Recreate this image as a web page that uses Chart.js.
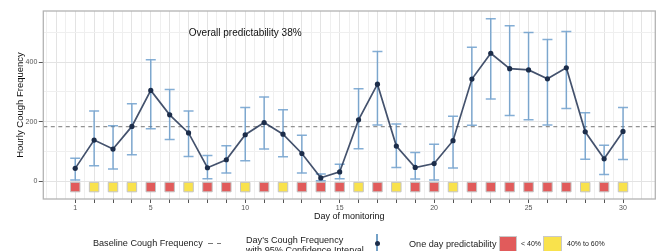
<!DOCTYPE html>
<html>
<head>
<meta charset="utf-8">
<script src="https://cdn.jsdelivr.net/npm/chart.js@4"></script>
<style>
  html, body { margin: 0; padding: 0; background: #fff; overflow: hidden; }
  #wrap { position: relative; width: 663px; height: 251px; overflow: hidden; font-family: "Liberation Sans", Arial, sans-serif; }
  #chart { position: absolute; left: 0; top: 0; }
  .lg { position: absolute; white-space: nowrap; color: #222; font-size: 9.1px; line-height: 10px; }
  .sm { font-size: 7px; }
</style>
</head>
<body>
<div id="wrap">
  <canvas id="chart" width="663" height="251"></canvas>
  <div class="lg" style="left:93px; top:238px;">Baseline Cough Frequency</div>
  <div style="position:absolute; left:208px; top:243px; width:14px; height:1px; background:repeating-linear-gradient(to right, #777 0 4.5px, transparent 4.5px 8.5px);"></div>
  <div class="lg" style="left:246px; top:235px;">Day's Cough Frequency</div>
  <div class="lg" style="left:246px; top:244.5px;">with 95% Confidence Interval</div>
  <div style="position:absolute; left:376.3px; top:234px; width:1.4px; height:18px; background:rgba(70,130,180,0.75);"></div>
  <div style="position:absolute; left:374.5px; top:241px; width:5px; height:5px; border-radius:50%; background:#1c2d4a;"></div>
  <div class="lg" style="left:409px; top:239px;">One day predictability</div>
  <div style="position:absolute; left:499px; top:236px; width:16px; height:16px; background:#e15b5b; border:1px solid #c9c9c9;"></div>
  <div class="lg sm" style="left:521px; top:239px;">&lt; 40%</div>
  <div style="position:absolute; left:543px; top:236px; width:17px; height:16px; background:#f9e24c; border:1px solid #c9c9c9;"></div>
  <div class="lg sm" style="left:567px; top:239px;">40% to 60%</div>
</div>
<script>
  // values
  const days = [1, 2, 3, 4, 5, 6, 7, 8, 9, 10, 11, 12, 13, 14, 15, 16, 17, 18, 19, 20, 21, 22, 23, 24, 25, 26, 27, 28, 29, 30];
  const coughMean = [43, 138, 108, 184, 305, 223, 162, 45, 72, 156, 197, 158, 93, 11, 31, 206, 326, 118, 46, 59, 136, 343, 430, 378, 374, 344, 381, 166, 75, 167];
  const ciLower = [4, 52, 41, 89, 176, 140, 83, 8, 27, 69, 108, 82, 27, 1, 8, 109, 189, 46, 7, 4, 44, 188, 276, 221, 206, 189, 244, 74, 22, 73];
  const ciUpper = [77, 236, 186, 260, 408, 308, 236, 86, 119, 248, 283, 240, 154, 24, 57, 311, 436, 192, 96, 124, 218, 450, 546, 522, 500, 476, 503, 230, 121, 248];
  const predictability = ['low', 'mid', 'mid', 'mid', 'low', 'low', 'mid', 'low', 'low', 'mid', 'low', 'mid', 'low', 'low', 'low',
                          'mid', 'low', 'mid', 'low', 'low', 'mid', 'low', 'low', 'low', 'low', 'low', 'low', 'mid', 'low', 'mid'];
  const baseline = 183;
  const squareRow = -20;
  const xLabels = [1, 5, 10, 15, 20, 25, 30];
  const yLabels = [0, 200, 400];
  const yGrid = [0, 100, 200, 300, 400, 500];
  const xMin = -0.69, xMax = 31.71;
  const yMin = -60, yMax = 572;

  const RED = '#e15b5b';
  const YELLOW = '#f9e24c';
  const FONT = '"Liberation Sans", Arial, sans-serif';

  var xGrid = [];
  for (var v = -0.5; v <= 31.5; v += 0.5) xGrid.push(v);

  // error bars are drawn just before the mean line, panel border on top
  const errorBars = {
    id: 'errorBars',
    beforeDatasetDraw: function(chart, args) {
      if (args.index !== 0) return;
      const ctx = chart.ctx, xs = chart.scales.x, ys = chart.scales.y;
      ctx.save();
      ctx.strokeStyle = 'rgba(80,140,195,0.7)';
      ctx.lineWidth = 1.5;
      days.forEach(function(d, i) {
        const px = xs.getPixelForValue(d);
        const top = ys.getPixelForValue(ciUpper[i]);
        const bot = ys.getPixelForValue(ciLower[i]);
        ctx.beginPath();
        ctx.moveTo(px, top); ctx.lineTo(px, bot);
        ctx.moveTo(px - 5, top); ctx.lineTo(px + 5, top);
        ctx.moveTo(px - 5, bot); ctx.lineTo(px + 5, bot);
        ctx.stroke();
      });
      ctx.restore();
    },
    afterDraw: function(chart) {
      const ctx = chart.ctx, a = chart.chartArea;
      const xs = chart.scales.x, ys = chart.scales.y;
      ctx.save();
      ctx.fillStyle = '#111';
      ctx.font = '10px ' + FONT;
      ctx.textAlign = 'center';
      ctx.textBaseline = 'middle';
      ctx.fillText('Overall predictability 38%', xs.getPixelForValue(10), ys.getPixelForValue(498));
      ctx.strokeStyle = '#b3b3b3';
      ctx.lineWidth = 1.3;
      ctx.strokeRect(a.left, a.top, a.right - a.left, a.bottom - a.top);
      ctx.restore();
    }
  };

  var ctx = document.getElementById('chart').getContext('2d');
  var chart = new Chart(ctx, {
    type: 'line',
    data: {
      datasets: [{
        label: "Day's Cough Frequency",
        data: days.map(function(d, i) { return {x: d, y: coughMean[i]}; }),
        borderColor: 'rgba(35,52,84,0.85)',
        borderWidth: 1.7,
        pointRadius: 2.6,
        pointBackgroundColor: '#1c2d4a',
        pointBorderWidth: 0,
        tension: 0
      }, {
        label: 'Baseline Cough Frequency',
        data: [{x: xMin, y: baseline}, {x: xMax, y: baseline}],
        borderColor: '#777',
        borderWidth: 1,
        borderDash: [4, 3.5],
        pointRadius: 0
      }, {
        label: 'One day predictability',
        data: days.map(function(d) { return {x: d, y: squareRow}; }),
        showLine: false,
        pointStyle: 'rect',
        pointRadius: 6.7,
        pointBackgroundColor: predictability.map(function(p) { return p === 'low' ? RED : YELLOW; }),
        pointBorderColor: '#c4c4c4',
        pointBorderWidth: 1
      }]
    },
    options: {
      animation: false,
      responsive: false,
      events: [],
      layout: { padding: { left: 0, right: 6.3, top: 11, bottom: 22 } },
      plugins: { legend: { display: false }, tooltip: { enabled: false } },
      scales: {
        x: {
          type: 'linear',
          min: xMin,
          max: xMax,
          afterBuildTicks: function(scale) {
            scale.ticks = xGrid.map(function(v) { return {value: v}; });
          },
          afterFit: function(scale) { scale.height = 30; },
          border: { display: false },
          grid: {
            color: function(c) { return Number.isInteger(c.tick.value) ? '#e3e3e3' : '#efefef'; },
            lineWidth: 1,
            tickLength: 4,
            tickColor: function(c) {
              var v = c.tick ? c.tick.value : null;
              return (Number.isInteger(v) && v >= 1 && v <= 30) ? '#555' : 'rgba(0,0,0,0)';
            }
          },
          ticks: {
            autoSkip: false,
            maxRotation: 0,
            padding: 1,
            color: '#555',
            font: { family: FONT, size: 7 },
            callback: function(value) { return xLabels.indexOf(value) >= 0 ? String(value) : ''; }
          },
          title: {
            display: true,
            text: 'Day of monitoring',
            color: '#111',
            font: { family: FONT, size: 9 },
            padding: { top: 0, bottom: 6.6 }
          }
        },
        y: {
          min: yMin,
          max: yMax,
          afterBuildTicks: function(scale) {
            scale.ticks = yGrid.map(function(v) { return {value: v}; });
          },
          afterFit: function(scale) { scale.width = 43.3; },
          border: { display: false },
          grid: {
            color: function(c) { return yLabels.indexOf(c.tick.value) >= 0 ? '#e3e3e3' : '#efefef'; },
            tickLength: 4.5,
            tickColor: function(c) {
              var v = c.tick ? c.tick.value : null;
              return yLabels.indexOf(v) >= 0 ? '#555' : 'rgba(0,0,0,0)';
            }
          },
          ticks: {
            padding: 1.5,
            color: '#555',
            font: { family: FONT, size: 7 },
            callback: function(value) { return yLabels.indexOf(value) >= 0 ? String(value) : ''; }
          },
          title: {
            display: true,
            text: 'Hourly Cough Frequency',
            color: '#111',
            font: { family: FONT, size: 9.5 },
            padding: { top: 15, bottom: 0 }
          }
        }
      }
    },
    plugins: [errorBars]
  });
</script>
</body>
</html>
